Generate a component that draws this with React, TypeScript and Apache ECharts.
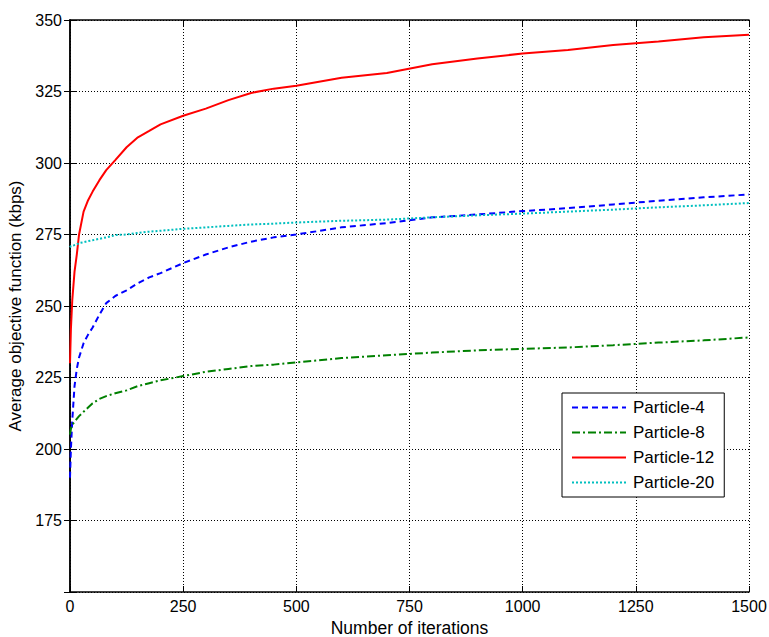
import React, { useEffect, useRef } from "react";
import * as echarts from "echarts";

const iterations = [0, 2, 5, 10, 15, 20, 30, 40, 50, 65, 80, 100, 125, 150, 175, 200, 250, 300, 350, 400, 450, 500, 600, 700, 800, 900, 1000, 1100, 1200, 1300, 1400, 1500];
const particle4 = [190, 200, 210, 222, 228, 232, 237, 240, 242.5, 247, 251, 253.5, 255.5, 258, 260, 261.5, 265, 268, 270.5, 272.5, 274, 275, 277.5, 279, 281, 282, 283.2, 284.2, 285.5, 286.8, 288, 289];
const particle8 = [205, 207, 208.5, 209.5, 210.5, 211.5, 213, 214.5, 216, 217.5, 218.5, 219.5, 220.5, 222, 223, 224, 225.5, 227, 228, 229, 229.5, 230.3, 231.8, 232.8, 233.7, 234.5, 235, 235.5, 236.3, 237.2, 238, 239];
const particle12 = [230, 242, 252, 262, 268, 275, 283, 287, 290, 294, 297.5, 301, 305.5, 309, 311.2, 313.5, 316.5, 319, 322, 324.5, 326, 327, 329.8, 331.5, 334.5, 336.5, 338.3, 339.5, 341.3, 342.5, 344, 344.8];
const particle20 = [270.5, 271, 271, 271.3, 271.5, 272, 272.3, 272.7, 273, 273.5, 274, 274.8, 275, 275.5, 276, 276.3, 277, 277.5, 278, 278.5, 278.8, 279.2, 279.8, 280.2, 281, 281.7, 282.3, 283, 283.7, 284.5, 285.2, 286];
const seriesNames = ["Particle-4", "Particle-8", "Particle-12", "Particle-20"];
const xTicks = { min: 0, max: 1500, interval: 250 };
const yTicks = { min: 150, max: 350, interval: 25 };

const FONT = "'Liberation Sans', Arial, Helvetica, sans-serif";

export default function App() {
  const ref = useRef<HTMLDivElement>(null);
  useEffect(() => {
    if (!ref.current) return;
    const chart = echarts.init(ref.current, undefined, { renderer: "svg" });
    const toPairs = (vals: number[]) => iterations.map((x, i) => [x, vals[i]]);
    const styles = [
      { color: "#0000ff", type: [6, 4] as any },
      { color: "#008000", type: [8, 3, 2, 3] as any },
      { color: "#ff0000", type: "solid" as any },
      { color: "#00bfbf", type: [2, 2] as any },
    ];
    const values = [particle4, particle8, particle12, particle20];
    const axisLine = { show: true, lineStyle: { color: "#000", width: 1.5 } };
    const tick = { show: true, inside: true, length: 6, lineStyle: { color: "#000", width: 1 } };
    const grid = { show: true, lineStyle: { color: "#000", width: 1, type: [1, 2] as any } };
    chart.setOption({
      animation: false,
      backgroundColor: "#fff",
      textStyle: { fontFamily: FONT },
      grid: { left: 70, top: 20, right: 20, bottom: 45, containLabel: false, outerBoundsMode: "none" },
      legend: {
        orient: "vertical",
        left: 562,
        top: 393,
        padding: [6, 10, 6, 9],
        itemWidth: 54,
        itemHeight: 14,
        itemGap: 8,
        borderColor: "#000",
        borderWidth: 1,
        backgroundColor: "#fff",
        data: seriesNames,
        itemStyle: { opacity: 0 },
        textStyle: { fontSize: 17, color: "#000", fontFamily: FONT, padding: [0, 0, 0, 2] },
      },
      xAxis: [
        {
          type: "value",
          ...xTicks,
          name: "Number of iterations",
          nameLocation: "middle",
          nameGap: 26,
          nameTextStyle: { fontSize: 17.5, color: "#000", fontFamily: FONT, lineHeight: 18 },
          axisLine,
          axisTick: tick,
          splitLine: grid,
          axisLabel: { fontSize: 16, color: "#000", margin: 6, fontFamily: FONT, formatter: (v: number) => String(v) },
        },
        {
          type: "value",
          ...xTicks,
          position: "top",
          axisLine,
          axisTick: tick,
          splitLine: { show: false },
          axisLabel: { show: false },
        },
      ],
      yAxis: [
        {
          type: "value",
          ...yTicks,
          name: "Average objective function (kbps)",
          nameLocation: "middle",
          nameGap: 42,
          nameTextStyle: { fontSize: 17, color: "#000", fontFamily: FONT },
          axisLine,
          axisTick: tick,
          splitLine: grid,
          axisLabel: {
            fontSize: 16,
            color: "#000",
            margin: 8,
            fontFamily: FONT,
            formatter: (v: number) => (v === 150 ? "" : String(v)),
          },
        },
        {
          type: "value",
          ...yTicks,
          position: "right",
          axisLine,
          axisTick: tick,
          splitLine: { show: false },
          axisLabel: { show: false },
        },
      ],
      series: seriesNames.map((name, i) => ({
        name,
        type: "line",
        data: toPairs(values[i]),
        showSymbol: false,
        symbol: "none",
        lineStyle: { color: styles[i].color, width: 2, type: styles[i].type },
        itemStyle: { color: styles[i].color },
        z: 3,
      })),
    });
    return () => chart.dispose();
  }, []);
  return (
    <div
      ref={ref}
      style={{ position: "fixed", left: 0, top: 0, width: 769, height: 637, background: "#fff" }}
    />
  );
}
